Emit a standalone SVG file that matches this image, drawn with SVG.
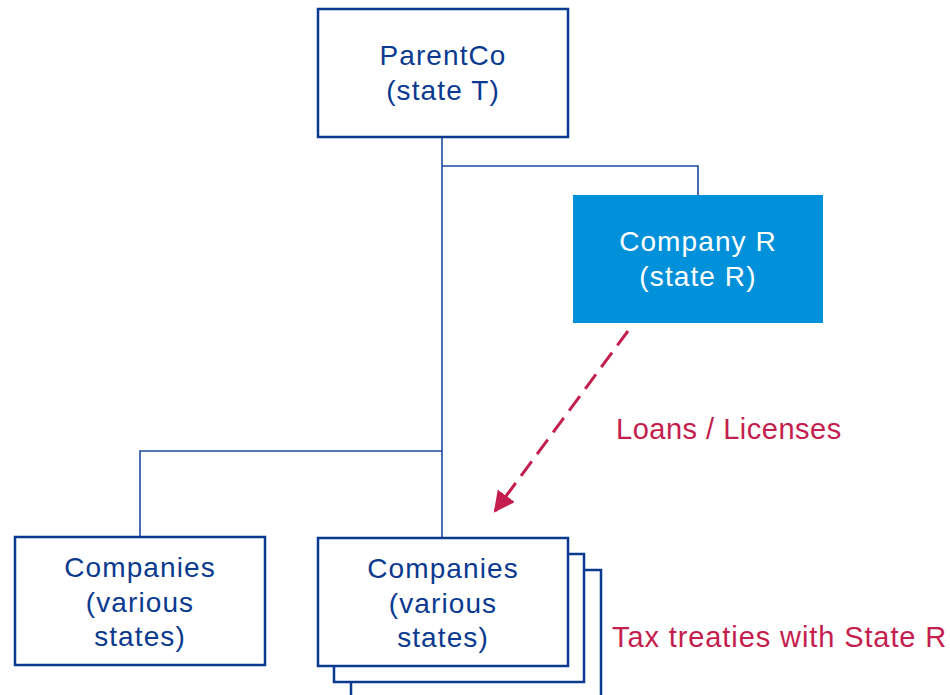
<svg xmlns="http://www.w3.org/2000/svg" width="950" height="695" viewBox="0 0 950 695">
  <style>
    .box { fill: #ffffff; stroke: #0a3a8f; stroke-width: 2.5; }
    .boxR { fill: #0091da; }
    .txt { font-family: "Liberation Sans", Arial, sans-serif; font-size: 28px; fill: #0a3a8f; text-anchor: middle; letter-spacing: 1.1px; }
    .txtW { fill: #ffffff; }
    .lbl { font-family: "Liberation Sans", Arial, sans-serif; font-size: 29px; fill: #c41e4e; letter-spacing: 0.9px; }
    .lblS { letter-spacing: 0.5px; }
    .conn { fill: none; stroke: #1c4b9e; stroke-width: 1.6; }
    .flow { fill: none; stroke: #c41e4e; stroke-width: 3; stroke-dasharray: 18 9; }
  </style>
  <defs>
    <marker id="arrowhead" viewBox="0 0 10 10" refX="9" refY="5" markerWidth="7" markerHeight="7" markerUnits="strokeWidth" orient="auto">
      <path d="M0,0 L10,5 L0,10 Z" fill="#c41e4e"/>
    </marker>
  </defs>

  <!-- ownership lines and flow arrow -->
  <g id="connectors">
    <path class="conn" d="M442,137 V538"/>
    <path class="conn" d="M442,166 H698 V195"/>
    <path class="conn" d="M442,451 H140 V537"/>
    <path class="flow" d="M628,331 L495,511" marker-end="url(#arrowhead)"/>
  </g>

  <g id="parentco">
    <rect class="box" x="318" y="9" width="250" height="128"/>
    <text class="txt" x="443" y="65">ParentCo</text>
    <text class="txt" x="443" y="100">(state T)</text>
  </g>

  <g id="company-r">
    <rect class="boxR" x="573" y="195" width="250" height="128"/>
    <text class="txt txtW" x="698" y="251">Company R</text>
    <text class="txt txtW" x="698" y="286">(state R)</text>
  </g>

  <g id="companies-left">
    <rect class="box" x="15" y="537" width="250" height="128"/>
    <text class="txt" x="140" y="577">Companies</text>
    <text class="txt" x="140" y="612">(various</text>
    <text class="txt" x="140" y="646">states)</text>
  </g>

  <g id="companies-stack">
    <rect class="box" x="351" y="570" width="250" height="140"/>
    <rect class="box" x="334" y="554" width="250" height="128"/>
    <rect class="box" x="318" y="538" width="250" height="128"/>
    <text class="txt" x="443" y="578">Companies</text>
    <text class="txt" x="443" y="613">(various</text>
    <text class="txt" x="443" y="647">states)</text>
  </g>

  <g id="labels">
    <text class="lbl lblS" x="616" y="439">Loans / Licenses</text>
    <text class="lbl" x="612" y="647">Tax treaties with State R</text>
  </g>
</svg>
